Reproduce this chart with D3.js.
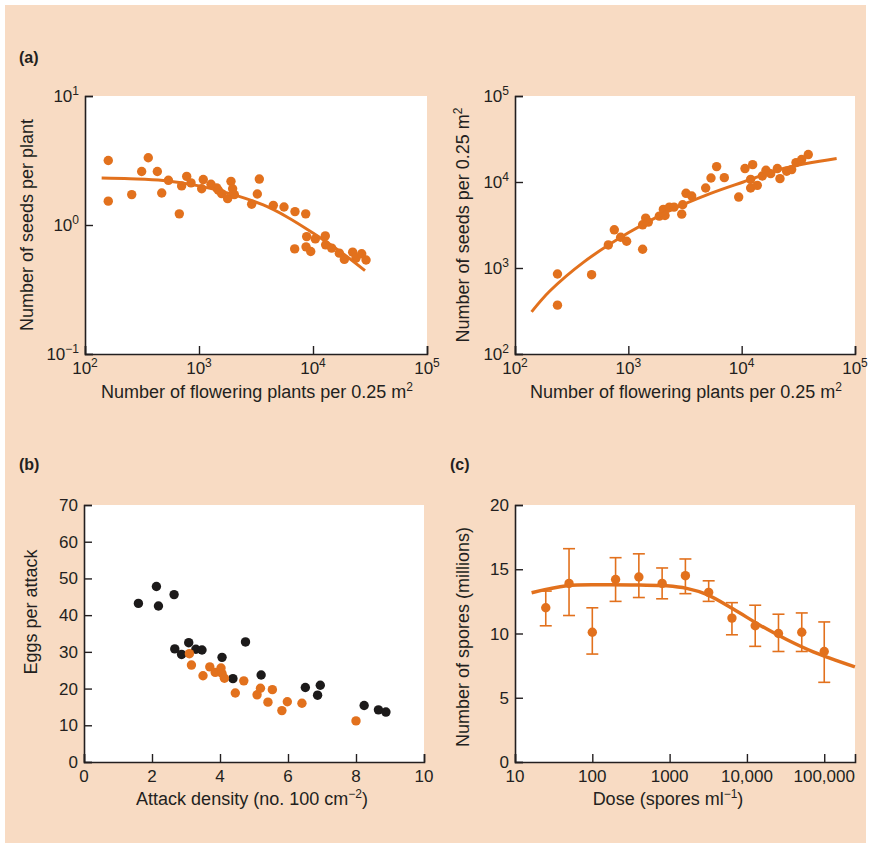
<!DOCTYPE html>
<html><head><meta charset="utf-8">
<script src="https://cdn.jsdelivr.net/npm/d3@7"></script>
<style>
body{margin:0;background:#fff}
text{font-family:"Liberation Sans",Arial,Helvetica,sans-serif;fill:#231f20}
</style>
</head><body><svg id="chart" width="872" height="849"></svg>
<script>
// ---------- DATA ----------
// (a) left: seeds per plant vs flowering plants
const aLeftX = [160,160,257,314,359,431,471,539,672,704,780,851,1056,1090,1274,1429,1479,1581,1783,1908,1972,2041,2897,3249,3381,4486,5568,6951,6905,8630,8800,8690,9550,10480,12820,12910,14580,17020,18830,22280,23830,26730,29190];
const aLeftY = [3.16,1.53,1.72,2.60,3.32,2.60,1.77,2.22,1.22,2.01,2.38,2.12,1.91,2.25,2.07,1.94,1.86,1.75,1.60,2.18,1.91,1.72,1.45,1.74,2.27,1.42,1.38,1.27,0.653,1.22,0.813,0.677,0.623,0.780,0.823,0.702,0.662,0.605,0.541,0.616,0.554,0.598,0.535];
const aLeftFitX = [140,248,486,1000,1870,3664,5870,10070,17260,28580];
const aLeftFitY = [2.31,2.28,2.21,2.01,1.75,1.43,1.16,0.863,0.624,0.443];
// (a) right: seeds per 0.25 m2 vs flowering plants
const aRightX = [237,237,474,666,752,856,966,1337,1337,1422,1500,1877,2037,2107,2302,2531,2958,3016,3229,3622,4812,5362,6013,7029,9413,10700,12000,12500,12000,13740,15210,16390,18030,20650,21780,24950,27620,30150,33820,38710];
const aRightY = [851,370,836,1854,2780,2280,2048,1651,3178,3802,3416,4010,4797,4083,5108,5108,4227,5436,7385,6873,8515,11130,15110,11240,6683,14330,10740,15920,8515,9139,11750,13680,12510,14330,10940,13330,13940,16820,18240,20850];
const aRightFitX = [140,204,401,1000,2178,5260,10350,23330,68870];
const aRightFitY = [309,543,1164,2566,4470,7310,10000,14330,18720];
const aXTickExp = [2,3,4,5];
const aLeftYTickExp = [-1,0,1];
const aRightYTickExp = [2,3,4,5];
// (b) eggs per attack vs attack density
const bBlackX = [1.60,2.13,2.19,2.65,2.67,2.87,3.08,3.29,3.47,4.06,4.38,4.75,5.21,6.51,6.87,6.95,8.24,8.66,8.88];
const bBlackY = [43.2,47.8,42.5,45.6,30.8,29.3,32.5,30.7,30.5,28.5,22.7,32.7,23.7,20.3,18.2,20.9,15.4,14.2,13.6];
const bOrangeX = [3.10,3.16,3.50,3.70,3.86,4.03,4.06,4.13,4.45,4.70,5.09,5.19,5.41,5.54,5.82,5.98,6.41,8.00];
const bOrangeY = [29.5,26.4,23.5,25.9,24.4,25.6,24.1,22.8,18.8,22.1,18.3,20.1,16.3,19.7,14.0,16.4,16.0,11.2];
const bXTicks = [0,2,4,6,8,10];
const bYTicks = [0,10,20,30,40,50,60,70];
// (c) spores vs dose
const cDose = [25,50,100,200,400,800,1600,3200,6400,12800,25600,51200,100000];
const cSpores = [12.0,13.9,10.1,14.2,14.4,13.9,14.5,13.2,11.2,10.6,10.0,10.1,8.6];
const cSporesHi = [13.3,16.6,12.0,15.9,16.2,15.1,15.8,14.1,12.4,12.2,11.5,11.6,10.9];
const cSporesLo = [10.6,11.4,8.4,12.5,12.8,12.7,13.1,12.5,9.9,9.0,8.6,8.6,6.2];
const cFitX = [16.4,46.6,125.6,413,914,1660,3008,6653,14720,32590,72090,249500];
const cFitY = [13.17,13.71,13.79,13.77,13.71,13.51,13.04,11.90,10.65,9.53,8.57,7.40];
const cXTicks = [10,100,1000,10000,100000];
const cXTickLabels = ["10","100","1000","10,000","100,000"];
const cYTicks = [0,5,10,15,20];

// ---------- DRAW ----------
const ORANGE = "#e2711d", BLACK = "#1c1a1a", AXIS = "#231f20";
const svg = d3.select("#chart");
svg.append("rect").attr("x",5).attr("y",5).attr("width",861).attr("height",838).attr("fill","#f8dbc3");

function panel(xs, ys) {
  const [x0,x1] = xs.range(), [y0,y1] = ys.range();
  const g = svg.append("g");
  g.append("rect").attr("x",x0).attr("y",y1).attr("width",x1-x0).attr("height",y0-y1).attr("fill","#fff");
  return g;
}
function axes(g, xs, ys, xt, yt) {
  const [x0] = xs.range(), [y0] = ys.range();
  const ax = g.append("g").attr("transform",`translate(0,${y0})`)
    .call(d3.axisBottom(xs).tickValues(xt).tickSize(-8).tickFormat(""));
  const ay = g.append("g").attr("transform",`translate(${x0},0)`)
    .call(d3.axisLeft(ys).tickValues(yt).tickSize(-8).tickFormat(""));
  [ax,ay].forEach(a=>{
    a.select(".domain").attr("stroke",AXIS).attr("stroke-width",1.6);
    a.selectAll(".tick line").attr("stroke",AXIS).attr("stroke-width",1.4);
  });
}
function supLabel(sel, base, sup, size) {
  sel.append("tspan").text(base);
  sel.append("tspan").attr("font-size",size).attr("dy",-7).text(sup);
}
function xLabels(g, xs, vals, fmt) {
  const y0 = xs === null ? 0 : 0;
  vals.forEach((v,i)=>{
    const t = g.append("text").attr("x",xs(v)).attr("y",g.node().__y0+20).attr("text-anchor","middle").attr("font-size",17);
    fmt(t,v,i);
  });
}
function yLabels(g, ys, x0, vals, fmt) {
  vals.forEach((v,i)=>{
    const t = g.append("text").attr("x",x0-6).attr("y",ys(v)+6).attr("text-anchor","end").attr("font-size",17);
    fmt(t,v,i);
  });
}
function dots(g, xs, ys, X, Y, col) {
  g.append("g").selectAll("circle").data(X).join("circle")
    .attr("cx",(d,i)=>xs(d)).attr("cy",(d,i)=>ys(Y[i])).attr("r",4.7).attr("fill",col);
}
function fit(g, xs, ys, X, Y, w) {
  const line = d3.line().x(d=>xs(d[0])).y(d=>ys(d[1])).curve(d3.curveCatmullRom.alpha(0.5));
  g.append("path").attr("d",line(X.map((d,i)=>[d,Y[i]]))).attr("fill","none")
    .attr("stroke",ORANGE).attr("stroke-width",w).attr("stroke-linecap","butt");
}
function yTitle(x, y, parts) {
  const t = svg.append("text").attr("transform",`translate(${x},${y}) rotate(-90)`).attr("text-anchor","middle").attr("font-size",18);
  parts(t);
}
function xTitle(x, y, parts) {
  const t = svg.append("text").attr("x",x).attr("y",y).attr("text-anchor","middle").attr("font-size",18);
  parts(t);
}
const expFmt = (t,v)=>{ supLabel(t,"10", v<0 ? "\u2212"+Math.abs(v) : String(v), 12); };

// (a) left
{
  const xs = d3.scaleLog().domain([1e2,1e5]).range([85,427]);
  const ys = d3.scaleLog().domain([1e-1,1e1]).range([354,96]);
  const g = panel(xs, ys); g.node().__y0 = 354;
  dots(g, xs, ys, aLeftX, aLeftY, ORANGE);
  fit(g, xs, ys, aLeftFitX, aLeftFitY, 3);
  axes(g, xs, ys, aXTickExp.map(e=>Math.pow(10,e)), aLeftYTickExp.map(e=>Math.pow(10,e)));
  xLabels(g, xs, aXTickExp.map(e=>Math.pow(10,e)), (t,v,i)=>expFmt(t,aXTickExp[i]));
  yLabels(g, ys, 85, aLeftYTickExp.map(e=>Math.pow(10,e)), (t,v,i)=>expFmt(t,aLeftYTickExp[i]));
}
// (a) right
{
  const xs = d3.scaleLog().domain([1e2,1e5]).range([515,855]);
  const ys = d3.scaleLog().domain([1e2,1e5]).range([354,96]);
  const g = panel(xs, ys); g.node().__y0 = 354;
  dots(g, xs, ys, aRightX, aRightY, ORANGE);
  fit(g, xs, ys, aRightFitX, aRightFitY, 3);
  axes(g, xs, ys, aXTickExp.map(e=>Math.pow(10,e)), aRightYTickExp.map(e=>Math.pow(10,e)));
  xLabels(g, xs, aXTickExp.map(e=>Math.pow(10,e)), (t,v,i)=>expFmt(t,aXTickExp[i]));
  yLabels(g, ys, 515, aRightYTickExp.map(e=>Math.pow(10,e)), (t,v,i)=>expFmt(t,aRightYTickExp[i]));
}
// (b)
{
  const xs = d3.scaleLinear().domain([0,10]).range([84,424]);
  const ys = d3.scaleLinear().domain([0,70]).range([762,505]);
  const g = panel(xs, ys); g.node().__y0 = 762;
  dots(g, xs, ys, bBlackX, bBlackY, BLACK);
  dots(g, xs, ys, bOrangeX, bOrangeY, ORANGE);
  axes(g, xs, ys, bXTicks, bYTicks);
  xLabels(g, xs, bXTicks, (t,v)=>t.text(v));
  yLabels(g, ys, 84, bYTicks, (t,v)=>t.text(v));
}
// (c)
{
  const xs = d3.scaleLog().domain([10,250000]).range([515,855]);
  const ys = d3.scaleLinear().domain([0,20]).range([762,505]);
  const g = panel(xs, ys); g.node().__y0 = 762;
  const eb = g.append("g").attr("stroke",ORANGE).attr("stroke-width",1.6);
  cDose.forEach((d,i)=>{
    const x = xs(d);
    eb.append("line").attr("x1",x).attr("x2",x).attr("y1",ys(cSporesHi[i])).attr("y2",ys(cSporesLo[i]));
    eb.append("line").attr("x1",x-6).attr("x2",x+6).attr("y1",ys(cSporesHi[i])).attr("y2",ys(cSporesHi[i]));
    eb.append("line").attr("x1",x-6).attr("x2",x+6).attr("y1",ys(cSporesLo[i])).attr("y2",ys(cSporesLo[i]));
  });
  dots(g, xs, ys, cDose, cSpores, ORANGE);
  fit(g, xs, ys, cFitX, cFitY, 3.5);
  axes(g, xs, ys, cXTicks, cYTicks);
  xLabels(g, xs, cXTicks, (t,v,i)=>t.text(cXTickLabels[i]));
  yLabels(g, ys, 515, cYTicks, (t,v)=>t.text(v));
}

// titles
const sup = (t, s)=>t.append("tspan").attr("font-size",12).attr("dy",-7).text(s);
xTitle(257, 398, t=>{ t.append("tspan").text("Number of flowering plants per 0.25 m"); sup(t,"2"); });
xTitle(686, 398, t=>{ t.append("tspan").text("Number of flowering plants per 0.25 m"); sup(t,"2"); });
xTitle(252, 805, t=>{ t.append("tspan").text("Attack density (no. 100 cm"); sup(t,"\u22122"); t.append("tspan").attr("dy",7).text(")"); });
xTitle(668, 805, t=>{ t.append("tspan").text("Dose (spores ml"); sup(t,"\u22121"); t.append("tspan").attr("dy",7).text(")"); });
yTitle(33, 225, t=>t.text("Number of seeds per plant"));
yTitle(469, 225, t=>{ t.append("tspan").text("Number of seeds per 0.25 m"); sup(t,"2"); });
yTitle(37, 612, t=>t.text("Eggs per attack"));
yTitle(469, 637, t=>t.text("Number of spores (millions)"));

[["(a)",19,63],["(b)",19,470],["(c)",450,470]].forEach(([s,x,y])=>
  svg.append("text").attr("x",x).attr("y",y).attr("font-size",16).attr("font-weight","bold").text(s));
</script>
</body></html>
